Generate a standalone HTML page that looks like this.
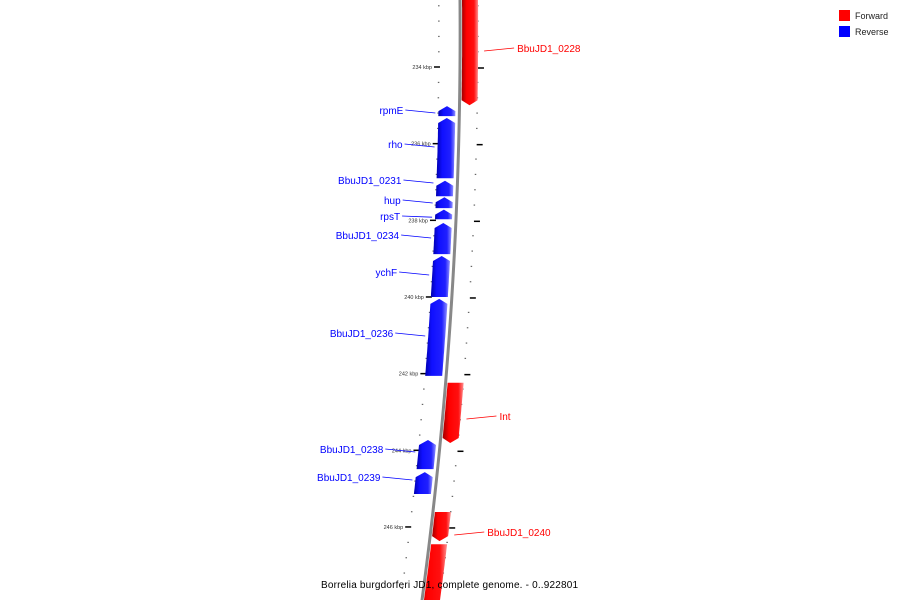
<!DOCTYPE html>
<html><head><meta charset="utf-8"><style>
html,body{margin:0;padding:0;background:#fff;overflow:hidden;}
svg{display:block;font-family:"Liberation Sans","DejaVu Sans",sans-serif;}
</style></head><body>
<svg id="map" width="900" height="600" viewBox="0 0 900 600" xmlns="http://www.w3.org/2000/svg">
<defs>
<linearGradient id="gBlue" x1="0" x2="1" y1="0" y2="0"><stop offset="0" stop-color="#0000b0"/><stop offset="0.3" stop-color="#1010ff"/><stop offset="0.75" stop-color="#2020ff"/><stop offset="1" stop-color="#9090ff"/></linearGradient>
<linearGradient id="gRed" x1="0" x2="1" y1="0" y2="0"><stop offset="0" stop-color="#a00000"/><stop offset="0.3" stop-color="#ff0000"/><stop offset="0.75" stop-color="#ff1010"/><stop offset="1" stop-color="#ff9090"/></linearGradient>
</defs>
<g id="ticks"></g>
<path id="backbone" fill="none" stroke="#888" stroke-width="3"/>
<g id="genes"></g>
<g id="labels"></g>
<g>
<rect x="839" y="10" width="11" height="11" fill="#f00"/>
<text x="855" y="19" font-size="9" fill="#222">Forward</text>
<rect x="839" y="26" width="11" height="11" fill="#00f"/>
<text x="855" y="35" font-size="9" fill="#222">Reverse</text>
</g>
<text x="321" y="588" font-size="10" fill="#000" textLength="257" lengthAdjust="spacing">Borrelia burgdorferi JD1, complete genome. - 0..922801</text>
</svg>
<script>
// data: gene features (kbp)
const geneNames = ["BbuJD1_0228","rpmE","rho","BbuJD1_0231","hup","rpsT","BbuJD1_0234","ychF","BbuJD1_0236","Int","BbuJD1_0238","BbuJD1_0239","BbuJD1_0240","BbuJD1_0241"];
const geneStarts = [232.0,235.02,235.33,236.97,237.4,237.72,238.07,238.93,240.05,242.24,243.73,244.57,245.61,246.45];
const geneEnds   = [235.0,235.28,236.9,237.37,237.68,237.97,238.88,240.0,242.06,243.81,244.49,245.14,246.37,249.0];
const geneStrands = [1,-1,-1,-1,-1,-1,-1,-1,-1,1,-1,-1,1,1];
const labelShown = [true,true,true,true,true,true,true,true,true,true,true,true,true,false];
const labelY = [48,110,144,180,200,216,235,272,333,416,449,477,532,0];
const tickLabels = ["234 kbp","236 kbp","238 kbp","240 kbp","242 kbp","244 kbp","246 kbp"];
const tickValues = [234,236,238,240,242,244,246];

const NS="http://www.w3.org/2000/svg";
function yOf(k){return 67+(k-234)*38.33;}
function bx(y){return 460+0.00772*y-0.0001184*y*y;}
function mk(tag,attrs,parent){const e=document.createElementNS(NS,tag);for(const a in attrs)e.setAttribute(a,attrs[a]);parent.appendChild(e);return e;}

let d="";for(let y=-5;y<=605;y+=5){d+=(y<0?"M":"L")+bx(y).toFixed(2)+" "+y+" ";}
document.getElementById("backbone").setAttribute("d",d);

const tg=document.getElementById("ticks");
for(let k=231.2;k<=250;k+=0.4){
  const y=yOf(k);if(y<-2||y>598)continue;
  const major=Math.abs(Math.round(k/2)*2-k)<0.01;
  const b=bx(y);
  if(major){
    const l=mk("line",{x1:b-26,x2:b-20,y1:y,y2:y,stroke:"#000","stroke-width":1.5},tg);
    
    const r=mk("line",{x1:b+18,x2:b+24,y1:y+1,y2:y+1,stroke:"#000","stroke-width":1.5},tg);
    
  } else {
    const l=mk("rect",{x:b-22,y:y-0.5,width:1.5,height:1.2,fill:"#666"},tg);
    
    const r=mk("rect",{x:b+17,y:y-0.5,width:1.5,height:1.2,fill:"#666"},tg);
    
  }
}
tickValues.forEach((v,i)=>{
  const y=yOf(v);const b=bx(y);
  const t=mk("text",{x:b-28,y:y+2,"font-size":"5.5","text-anchor":"end",fill:"#333"},tg);
  t.textContent=tickLabels[i];
  
});

const gg=document.getElementById("genes"),lg=document.getElementById("labels");
geneNames.forEach((n,i)=>{
  const y1=yOf(geneStarts[i]),y2=yOf(geneEnds[i]);
  const s=geneStrands[i];
  const o1=s>0?2:-21,o2=s>0?18:-4,ah=5;
  let pts=[];
  if(s>0){
    const tipY=y2, baseY=y2-ah;
    for(let y=y1;y<=baseY;y+=3)pts.push([bx(y)+o1,y]);
    pts.push([bx(baseY)+o1,baseY]);pts.push([bx(tipY)+(o1+o2)/2,tipY]);pts.push([bx(baseY)+o2,baseY]);
    for(let y=baseY;y>=y1;y-=3)pts.push([bx(y)+o2,y]);
    pts.push([bx(y1)+o2,y1]);
  } else {
    const tipY=y1, baseY=y1+ah;
    pts.push([bx(tipY)+(o1+o2)/2,tipY]);pts.push([bx(baseY)+o2,baseY]);
    for(let y=baseY;y<=y2;y+=3)pts.push([bx(y)+o2,y]);
    pts.push([bx(y2)+o2,y2]);
    for(let y=y2;y>=baseY;y-=3)pts.push([bx(y)+o1,y]);
    pts.push([bx(baseY)+o1,baseY]);
  }
  const p=mk("polygon",{points:pts.map(q=>q[0].toFixed(1)+","+q[1].toFixed(1)).join(" "),fill:s>0?"url(#gRed)":"url(#gBlue)"},gg);
  
  if(!labelShown[i])return;
  const col=s>0?"#f00":"#00f";
  const ly=labelY[i];
  const my=Math.min(Math.max(ly+3,Math.max(y1,0)+2),y2-2);
  if(s>0){
    const gx=bx(my)+o2+6;
    const l=mk("line",{x1:gx,y1:my,x2:gx+30,y2:ly,stroke:col,"stroke-width":0.8},lg);
    
    const t=mk("text",{x:gx+33,y:ly+4,"font-size":"10",fill:col},lg);
    t.textContent=n;
  } else {
    const gx=bx(my)+o1-3;
    const l=mk("line",{x1:gx,y1:my,x2:gx-30,y2:ly,stroke:col,"stroke-width":0.8},lg);
    
    const t=mk("text",{x:gx-32,y:ly+4,"font-size":"10","text-anchor":"end",fill:col},lg);
    t.textContent=n;
  }
});
</script>
</body></html>
